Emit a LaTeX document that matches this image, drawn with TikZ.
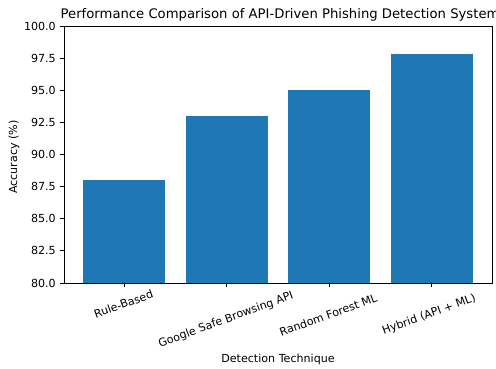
\documentclass[tikz,border=0pt]{standalone}
\usepackage{fontspec}
\setmainfont{DejaVu Sans}
\definecolor{barblue}{HTML}{1F77B4}
\begin{document}
\begin{tikzpicture}[x=1pt,y=1pt,
  ticklab/.style={font=\fontsize{11.1}{13}\selectfont, inner sep=0pt},
  axislab/.style={font=\fontsize{11.1}{13}\selectfont, inner sep=0pt},
  titlelab/.style={font=\fontsize{13.2}{16}\selectfont, inner sep=0pt},
  spine/.style={line width=0.9pt, black},
  tickmark/.style={line width=0.9pt, black},
  bar/.style={fill=barblue, draw=none}]
\useasboundingbox (0,0) rectangle (496,368);

% plot area: x from 64 to 492, y from 85 (80.0) to 342 (100.0)
\def\xl{64}\def\xr{492}\def\yb{85}\def\yt{342}
\def\unitx{102.4}\def\unity{12.85}

% bars
\foreach \i/\v in {0/88, 1/93, 2/95, 3/97.8}{
  \pgfmathsetmacro\cx{\xl+(\i+0.59)*\unitx}
  \pgfmathsetmacro\ty{\yb+(\v-80)*\unity}
  \path[bar] (\cx-40.96,\yb) rectangle (\cx+40.96,\ty);
}

% frame
\draw[spine] (\xl,\yb) rectangle (\xr,\yt);

% y ticks and labels
\foreach \v/\lab in {80/80.0, 82.5/82.5, 85/85.0, 87.5/87.5, 90/90.0, 92.5/92.5, 95/95.0, 97.5/97.5, 100/100.0}{
  \pgfmathsetmacro\ty{\yb+(\v-80)*\unity}
  \draw[tickmark] (\xl,\ty) -- (\xl-4,\ty);
  \node[ticklab, anchor=east] at (\xl-8,\ty) {\lab};
}

% x ticks
\foreach \i in {0,1,2,3}{
  \pgfmathsetmacro\cx{\xl+(\i+0.59)*\unitx}
  \draw[tickmark] (\cx,\yb) -- (\cx,\yb-4);
}

% x tick labels, rotated by 20 degrees
\node[ticklab, rotate=20] (t1) at (123.5,64) {Rule-Based};
\node[ticklab, rotate=20] (t2) at (226,48) {Google Safe Browsing API};
\node[ticklab, rotate=20] (t3) at (328.3,53) {Random Forest ML};
\node[ticklab, rotate=20] (t4) at (429,53) {Hybrid (API + ML)};

% axis labels and title
\node[axislab, anchor=north] (xlab) at (278,14.5) {Detection Technique};
\node[axislab, rotate=90] (ylab) at (14,211) {Accuracy (\%)};
\node[titlelab, anchor=base west] (ttl) at (60.5,349.8) {Performance Comparison of API-Driven Phishing Detection Systems};
\end{tikzpicture}
\end{document}
